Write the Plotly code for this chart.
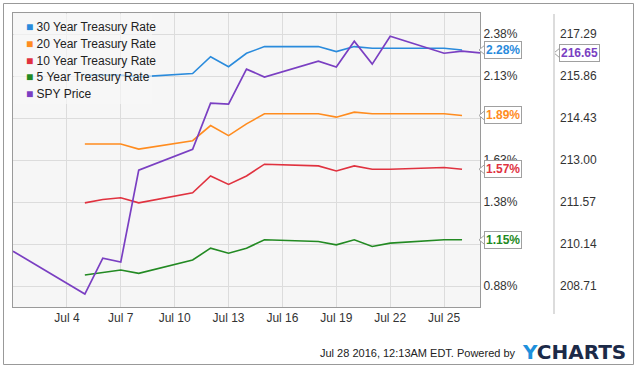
import plotly.graph_objects as go

# ---------------- data ----------------
treasury_dates = ["2016-07-05", "2016-07-06", "2016-07-07", "2016-07-08",
                  "2016-07-11", "2016-07-12", "2016-07-13", "2016-07-14", "2016-07-15",
                  "2016-07-18", "2016-07-19", "2016-07-20", "2016-07-21", "2016-07-22",
                  "2016-07-25", "2016-07-26"]
rate_30y = [2.13, 2.13, 2.13, 2.12, 2.14, 2.24, 2.18, 2.26, 2.30, 2.30, 2.27, 2.30, 2.29, 2.29, 2.29, 2.28]
rate_20y = [1.72, 1.72, 1.72, 1.69, 1.74, 1.83, 1.77, 1.84, 1.90, 1.90, 1.88, 1.91, 1.90, 1.90, 1.90, 1.89]
rate_10y = [1.37, 1.39, 1.40, 1.37, 1.43, 1.53, 1.48, 1.53, 1.60, 1.59, 1.56, 1.59, 1.57, 1.57, 1.58, 1.57]
rate_5y = [0.94, 0.955, 0.97, 0.95, 1.03, 1.10, 1.07, 1.10, 1.15, 1.14, 1.12, 1.15, 1.11, 1.13, 1.15, 1.15]

spy_dates = ["2016-07-01", "2016-07-05", "2016-07-06", "2016-07-07", "2016-07-08",
             "2016-07-11", "2016-07-12", "2016-07-13", "2016-07-14", "2016-07-15",
             "2016-07-18", "2016-07-19", "2016-07-20", "2016-07-21", "2016-07-22",
             "2016-07-25", "2016-07-26", "2016-07-27"]
spy_price = [209.90, 208.44, 209.66, 209.53, 212.66, 213.37, 214.94, 214.91, 216.10, 215.83,
             216.37, 216.17, 217.05, 216.27, 217.22, 216.64, 216.71, 216.65]

series_names = ["30 Year Treasury Rate", "20 Year Treasury Rate", "10 Year Treasury Rate",
                "5 Year Treasury Rate", "SPY Price"]
series_colors = ["#2a8bdc", "#ff8c1f", "#e0323f", "#238a23", "#7a3fc2"]

x_tick_vals = ["2016-07-04", "2016-07-07", "2016-07-10", "2016-07-13", "2016-07-16",
               "2016-07-19", "2016-07-22", "2016-07-25"]
x_tick_text = ["Jul 4", "Jul 7", "Jul 10", "Jul 13", "Jul 16", "Jul 19", "Jul 22", "Jul 25"]
x_range = ["2016-07-01", "2016-07-27"]

# 1.88% and 1.13% sit fully under the value boxes in the reference
rate_tick_vals = [0.875, 1.125, 1.375, 1.625, 1.875, 2.125, 2.375]
rate_tick_text = ["0.88%", "", "1.38%", "1.63%", "", "2.13%", "2.38%"]
rate_range = [0.75, 2.5]

spy_tick_vals = [208.715, 210.145, 211.575, 213.005, 214.435, 215.865, 217.295]
spy_tick_text = ["208.71", "210.14", "211.57", "213.00", "214.43", "215.86", "217.29"]
spy_range = [208.0, 218.01]

footer_text = "Jul 28 2016, 12:13AM EDT. Powered by"

# ---------------- geometry (pixels) ----------------
W, H = 640, 370
ML, MR, MT, MB = 13, 86, 13, 63
PW = W - ML - MR          # paper width in px
PH = H - MT - MB          # paper height in px
PLOT_RIGHT = 480


def px_x(px):
    return (px - ML) / PW


def px_y(py):
    return 1 - (py - MT) / PH


FONT = "Arial, Liberation Sans, sans-serif"

fig = go.Figure()

rate_series = [rate_30y, rate_20y, rate_10y, rate_5y]
for name, vals, col in zip(series_names[:4], rate_series, series_colors[:4]):
    fig.add_trace(go.Scatter(x=treasury_dates, y=vals, mode="lines", name=name,
                             line=dict(color=col, width=1.6), showlegend=False,
                             yaxis="y"))
fig.add_trace(go.Scatter(x=spy_dates, y=spy_price, mode="lines", name=series_names[4],
                         line=dict(color=series_colors[4], width=1.7), showlegend=False,
                         yaxis="y2"))

shapes = []
annotations = []

# legend background (semi-transparent, above traces)
shapes.append(dict(type="rect", xref="paper", yref="paper", layer="above",
                   x0=px_x(14), x1=px_x(152), y0=px_y(104), y1=px_y(14),
                   fillcolor="rgba(247,247,247,0.65)", line=dict(width=0)))

# legend rows
for i, (name, col) in enumerate(zip(series_names, series_colors)):
    annotations.append(dict(
        xref="paper", yref="paper", x=px_x(24), y=px_y(27 + 16.75 * i),
        xanchor="left", yanchor="middle", showarrow=False,
        text=f"<span style='color:{col}'>■</span> {name}",
        font=dict(family=FONT, size=12, color="#222")))

# value labels
last_rates = [rate_30y[-1], rate_20y[-1], rate_10y[-1], rate_5y[-1]]
for val, col in zip(last_rates, series_colors[:4]):
    annotations.append(dict(
        xref="paper", yref="y", x=px_x(484), y=val, xanchor="left", yanchor="middle",
        showarrow=False, text=f"<b>{val:.2f}%</b>",
        font=dict(family=FONT, size=12, color=col),
        bgcolor="white", bordercolor="#a0a0a0", borderwidth=1, borderpad=1))
    shapes.append(dict(type="path", xref="paper", yref="y", xsizemode="pixel",
                       ysizemode="pixel", xanchor=px_x(484), yanchor=val,
                       path="M 1,5 L -5,0 L 1,-5 Z", fillcolor="white",
                       line=dict(color="#a0a0a0", width=1), layer="above"))

annotations.append(dict(
    xref="paper", yref="y2", x=px_x(559), y=spy_price[-1], xanchor="left", yanchor="middle",
    showarrow=False, text=f"<b>{spy_price[-1]:.2f}</b>",
    font=dict(family=FONT, size=12, color=series_colors[4]),
    bgcolor="white", bordercolor="#a0a0a0", borderwidth=1, borderpad=1))
shapes.append(dict(type="path", xref="paper", yref="y2", xsizemode="pixel",
                   ysizemode="pixel", xanchor=px_x(559), yanchor=spy_price[-1],
                   path="M 1,5 L -5,0 L 1,-5 Z", fillcolor="white",
                   line=dict(color="#a0a0a0", width=1), layer="above"))

# divider between the two right-hand axes
shapes.append(dict(type="line", xref="paper", yref="paper",
                   x0=px_x(554), x1=px_x(554), y0=px_y(314), y1=px_y(14),
                   line=dict(color="#dcdcdc", width=2)))

# outer frame
shapes.append(dict(type="rect", xref="paper", yref="paper",
                   x0=px_x(3.5), x1=px_x(633.5), y0=px_y(364.5), y1=px_y(3.5),
                   line=dict(color="#999999", width=1), fillcolor="rgba(0,0,0,0)"))

# footer
annotations.append(dict(
    xref="paper", yref="paper", x=px_x(518), y=px_y(353), xanchor="right", yanchor="middle",
    showarrow=False, text=footer_text, font=dict(family=FONT, size=11, color="#222")))
annotations.append(dict(
    xref="paper", yref="paper", x=px_x(520), y=px_y(352), xanchor="left", yanchor="middle",
    showarrow=False,
    text="<b><span style='color:#1e90dc'>Y</span>CHARTS</b>",
    font=dict(family="DejaVu Sans, sans-serif", size=20, color="#1c2a48")))

fig.update_layout(
    width=W, height=H,
    margin=dict(l=ML, r=MR, t=MT, b=MB),
    paper_bgcolor="white",
    plot_bgcolor="#f6f6f6",
    showlegend=False,
    font=dict(family=FONT, size=12, color="#333"),
    xaxis=dict(domain=[0, px_x(PLOT_RIGHT)], type="date", range=x_range,
               tickvals=x_tick_vals, ticktext=x_tick_text,
               showgrid=True, gridcolor="#dcdcdc", gridwidth=1,
               showline=True, linecolor="#9a9a9a", linewidth=1, mirror=True,
               ticks="", zeroline=False, tickfont=dict(size=12, color="#333")),
    yaxis=dict(anchor="x", side="right", range=rate_range,
               tickvals=rate_tick_vals, ticktext=rate_tick_text,
               showgrid=True, gridcolor="#dcdcdc", gridwidth=1,
               showline=True, linecolor="#9a9a9a", linewidth=1, mirror=True,
               ticks="", zeroline=False, tickfont=dict(size=12, color="#333")),
    yaxis2=dict(overlaying="y", anchor="free", position=1.0, side="right",
                range=spy_range, tickvals=spy_tick_vals, ticktext=spy_tick_text,
                showgrid=False, showline=False, ticks="", zeroline=False,
                ticklabelstandoff=5,
                tickfont=dict(size=12, color="#333")),
    shapes=shapes,
    annotations=annotations,
)

fig.write_html("out.html",
               config={"displayModeBar": False},
               post_script="document.body.style.margin='0';document.body.style.padding='0';")
